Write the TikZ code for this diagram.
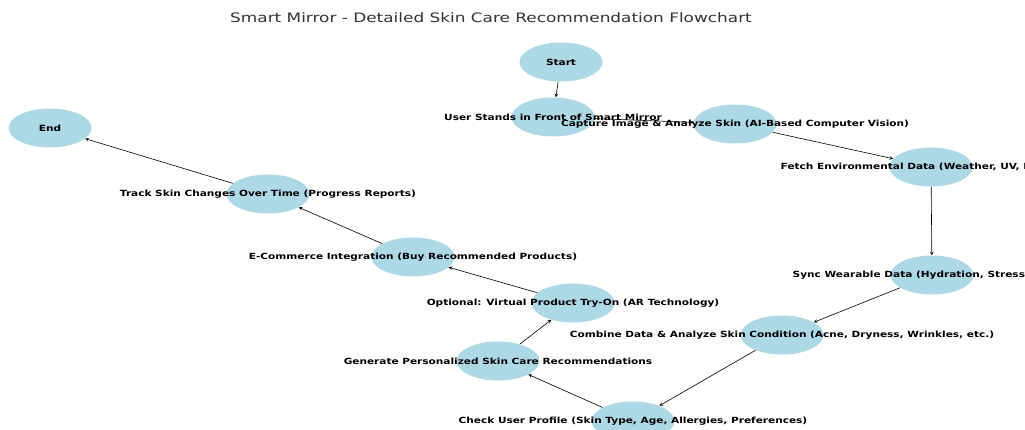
\documentclass[tikz,border=0pt]{standalone}
\usepackage{fontspec}
\setmainfont{DejaVu Sans}
\newfontfamily\widefont[FakeStretch=1.24]{DejaVu Sans}
\newfontfamily\titlefont[FakeStretch=1.3]{DejaVu Sans}
\usetikzlibrary{shapes.geometric}
\definecolor{lightblue}{RGB}{173,216,230}

\begin{document}
\begin{tikzpicture}[x=1pt,y=-1pt,>=stealth,
    blob/.style={ellipse,fill=lightblue,minimum width=83pt,minimum height=39pt,inner sep=0pt},
    txt/.style={font=\widefont\fontsize{8.5}{9}\selectfont\bfseries,inner sep=0pt},
    flow/.style={->,line width=0.6pt}]
         \useasboundingbox (0,0) rectangle (1025,430) ;
         \clip (0,0) rectangle (1025,430) ;
         \node[font=\titlefont\fontsize{13}{14}\selectfont,text=black!80] (title) at (491,18)
         {Smart Mirror - Detailed Skin Care Recommendation Flowchart} ;
         % the steps
         \node[blob] (start) at (561,62) {} ;
         \node[blob] (user) at (553,117) {} ;
         \node[blob] (capture) at (735,124) {} ;
         \node[blob] (fetch) at (931,167) {} ;
         \node[blob] (sync) at (932,275) {} ;
         \node[blob] (combine) at (782,335) {} ;
         \node[blob] (profile) at (633,421) {} ;
         \node[blob] (generate) at (498,361) {} ;
         \node[blob] (tryon) at (573,303) {} ;
         \node[blob] (shop) at (413,257) {} ;
         \node[blob] (track) at (268,194) {} ;
         \node[blob] (end) at (50,128) {} ;
         % the flow
         \draw[flow] (start) -- (user) ;
         \draw[flow] (user) -- (capture) ;
         \draw[flow] (capture) -- (fetch) ;
         \draw[flow] (fetch) -- (sync) ;
         \draw[flow] (sync) -- (combine) ;
         \draw[flow] (combine) -- (profile) ;
         \draw[flow] (profile) -- (generate) ;
         \draw[flow] (generate) -- (tryon) ;
         \draw[flow] (tryon) -- (shop) ;
         \draw[flow] (shop) -- (track) ;
         \draw[flow] (track) -- (end) ;
         % labels on top
         \node[txt] (startt) at (start) {Start} ;
         \node[txt] (usert) at (user) {User Stands in Front of Smart Mirror} ;
         \node[txt] (capturet) at (capture) {Capture Image \& Analyze Skin (AI-Based Computer Vision)} ;
         \node[txt] (fetcht) at (fetch) {Fetch Environmental Data (Weather, UV, Pollution)} ;
         \node[txt] (synct) at (sync) {Sync Wearable Data (Hydration, Stress Levels)} ;
         \node[txt] (combinet) at (combine) {Combine Data \& Analyze Skin Condition (Acne, Dryness, Wrinkles, etc.)} ;
         \node[txt] (profilet) at (profile) {Check User Profile (Skin Type, Age, Allergies, Preferences)} ;
         \node[txt] (generatet) at (generate) {Generate Personalized Skin Care Recommendations} ;
         \node[txt] (tryont) at (tryon) {Optional: Virtual Product Try-On (AR Technology)} ;
         \node[txt] (shopt) at (shop) {E-Commerce Integration (Buy Recommended Products)} ;
         \node[txt] (trackt) at (track) {Track Skin Changes Over Time (Progress Reports)} ;
         \node[txt] (endt) at (end) {End} ;
      \end{tikzpicture}
\end{document}
